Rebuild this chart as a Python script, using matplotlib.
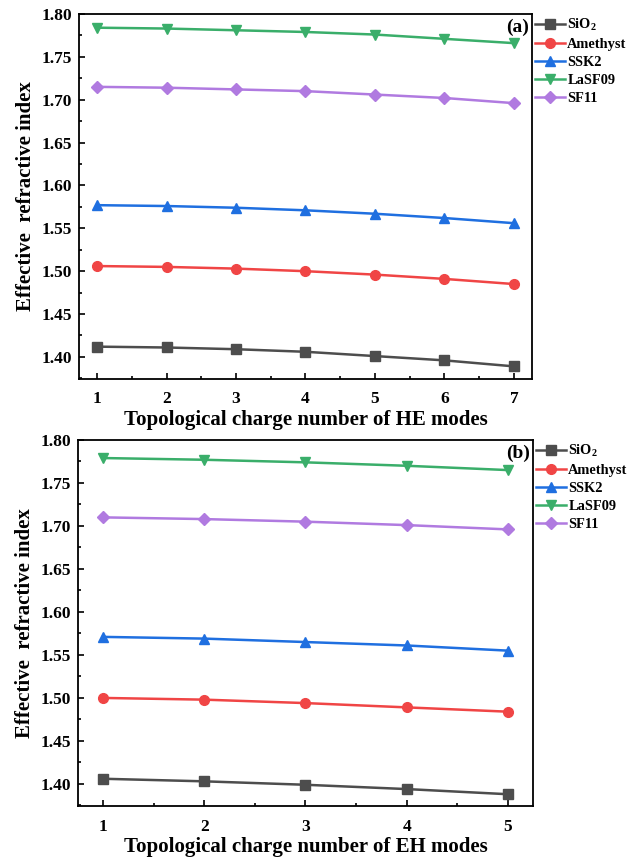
import matplotlib.pyplot as plt
from matplotlib.ticker import MultipleLocator, FormatStrFormatter

plt.rcParams['font.family'] = ['Liberation Serif', 'DejaVu Serif']
plt.rcParams['font.weight'] = 'bold'
plt.rcParams['mathtext.fontset'] = 'custom'
plt.rcParams['mathtext.rm'] = 'Liberation Serif:bold'

# mode numbers
he_modes = [1, 2, 3, 4, 5, 6, 7]
eh_modes = [1, 2, 3, 4, 5]

materials = ['SiO$_2$', 'Amethyst', 'SSK2', 'LaSF09', 'SF11']

# (a) HE modes
he_sio2 = [1.412, 1.411, 1.409, 1.406, 1.401, 1.396, 1.389]
he_amethyst = [1.506, 1.505, 1.503, 1.500, 1.496, 1.491, 1.485]
he_ssk2 = [1.577, 1.576, 1.574, 1.571, 1.567, 1.562, 1.556]
he_lasf09 = [1.784, 1.783, 1.781, 1.779, 1.776, 1.771, 1.766]
he_sf11 = [1.715, 1.714, 1.712, 1.710, 1.706, 1.702, 1.696]

# (b) EH modes
eh_sio2 = [1.406, 1.403, 1.399, 1.394, 1.388]
eh_amethyst = [1.500, 1.498, 1.494, 1.489, 1.484]
eh_ssk2 = [1.571, 1.569, 1.565, 1.561, 1.555]
eh_lasf09 = [1.779, 1.777, 1.774, 1.770, 1.765]
eh_sf11 = [1.710, 1.708, 1.705, 1.701, 1.696]

colors = ['#4d4d4d', '#f04545', '#1f6fe0', '#3aae6a', '#b07ae0']
markers = ['s', 'o', '^', 'v', 'D']
msizes = [6.5, 7, 7.5, 7.5, 6.5]


def draw(ax, x, series, xlabel, tag, xlim, xpad):
    for s, name, c, m, ms in zip(series, materials, colors, markers, msizes):
        ax.plot(x, s, color=c, marker=m, markersize=ms, linewidth=1.8, label=name)
    ax.set_xlim(*xlim)
    ax.set_ylim(1.3743, 1.80)
    ax.set_xticks(x)
    ax.xaxis.set_minor_locator(MultipleLocator(0.5))
    ax.yaxis.set_major_locator(MultipleLocator(0.05))
    ax.yaxis.set_minor_locator(MultipleLocator(0.025))
    ax.yaxis.set_major_formatter(FormatStrFormatter('%.2f'))
    ax.tick_params(which='both', direction='in', labelsize=12.5, width=1.2)
    ax.tick_params(which='major', length=4.5)
    ax.tick_params(which='minor', length=2.5)
    ax.tick_params(axis='x', pad=9)
    ax.tick_params(axis='y', pad=5)
    for sp in ax.spines.values():
        sp.set_linewidth(1.3)
    ax.set_xlabel(xlabel, fontsize=15, fontweight='bold', labelpad=xpad)
    ax.set_ylabel('Effective  refractive index', fontsize=15, fontweight='bold',
                  labelpad=4)
    ax.text(0.993, 0.988, tag, transform=ax.transAxes, ha='right', va='top',
            fontsize=14, fontweight='bold')
    ax.legend(loc='upper left', bbox_to_anchor=(1.0, 1.0), frameon=False,
              fontsize=10.4, handlelength=2.1, handletextpad=0.15,
              borderaxespad=0.0, borderpad=0.2, labelspacing=0.33)


fig = plt.figure(figsize=(6.38, 8.57), dpi=100)
ax1 = fig.add_axes([0.1238, 0.5578, 0.710, 0.4259])
ax2 = fig.add_axes([0.1223, 0.0595, 0.713, 0.4271])

draw(ax1, he_modes, [he_sio2, he_amethyst, he_ssk2, he_lasf09, he_sf11],
     'Topological charge number of HE modes', '(a)', (0.74, 7.26), 2)
draw(ax2, eh_modes, [eh_sio2, eh_amethyst, eh_ssk2, eh_lasf09, eh_sf11],
     'Topological charge number of EH modes', '(b)', (0.753, 5.247), 1.5)

fig.savefig('out.png', dpi=100)
